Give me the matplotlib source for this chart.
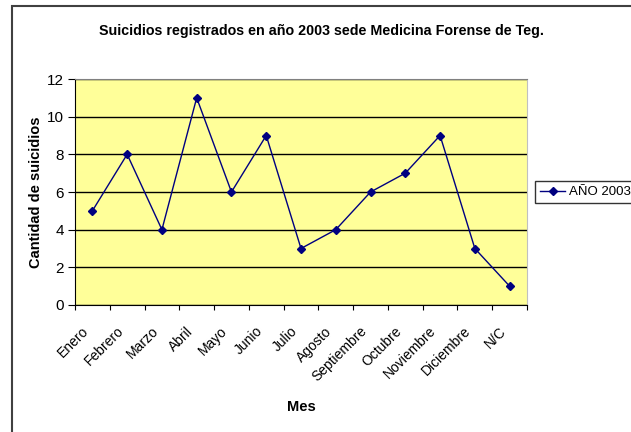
import matplotlib

matplotlib.use("Agg")
import matplotlib.pyplot as plt
from matplotlib.patches import Rectangle
from matplotlib.transforms import ScaledTranslation

plt.rcParams["font.family"] = ["Liberation Sans", "DejaVu Sans"]

MESES = ["Enero", "Febrero", "Marzo", "Abril", "Mayo", "Junio", "Julio",
         "Agosto", "Septiembre", "Octubre", "Noviembre", "Diciembre", "N/C"]
SUICIDIOS = [5, 8, 4, 11, 6, 9, 3, 4, 6, 7, 9, 3, 1]
Y_TICKS = [0, 2, 4, 6, 8, 10, 12]

W, H = 631, 432
fig = plt.figure(figsize=(W / 100, H / 100), dpi=100)

# outer chart frame (only left/top edges fall inside the image)
fig.patches.append(Rectangle((12 / W, -0.05), 1.1, (H - 6) / H + 0.05,
                             transform=fig.transFigure, fill=False,
                             edgecolor="#404040", linewidth=1.5))

ax = fig.add_axes([75 / W, (H - 305) / H, (527 - 75) / W, (305 - 79) / H])
ax.set_facecolor("#FFFF99")

xs = list(range(len(MESES)))
ax.plot(xs, SUICIDIOS, color="#000080", linewidth=1, marker="D",
        markersize=4.5, label="AÑO 2003", zorder=3)

ax.set_xlim(-0.5, len(MESES) - 0.5)
ax.set_ylim(0, 12)
ax.set_yticks(Y_TICKS)
ax.set_yticklabels([str(t) for t in Y_TICKS], fontsize=11)
ax.yaxis.grid(True, color="black", linewidth=1)
ax.set_axisbelow(True)

# category ticks at boundaries, labels at centers
ax.set_xticks([i - 0.5 for i in range(len(MESES) + 1)])
ax.set_xticklabels([])
ax.set_xticks(xs, minor=True)
ax.set_xticklabels(MESES, minor=True, rotation=45, ha="right", va="center",
                   rotation_mode="anchor", fontsize=10)
ax.tick_params(axis="x", which="minor", length=0, pad=0)
ax.tick_params(axis="x", which="major", length=3.6, direction="out")
ax.tick_params(axis="y", length=5, direction="out", pad=3)
shift = ScaledTranslation(-6 / 100, -24 / 100, fig.dpi_scale_trans)
for lbl in ax.get_xticklabels(minor=True):
    lbl.set_transform(lbl.get_transform() + shift)

ax.spines["left"].set_color("black")
ax.spines["bottom"].set_color("black")
ax.spines["top"].set_color("#808080")
ax.spines["right"].set_color("#C0C0C0")

ax.set_xlabel("Mes", fontsize=10.5, fontweight="bold")
ax.xaxis.set_label_coords(0.5, (305 - 400) / 226)
ax.set_ylabel("Cantidad de suicidios", fontsize=10.5, fontweight="bold")
ax.yaxis.set_label_coords((43 - 75) / 452, 0.5)

fig.text(321 / W, (H - 31) / H, "Suicidios registrados en año 2003 sede Medicina Forense de Teg.",
         ha="center", va="center", fontsize=10.3, fontweight="bold")

leg = ax.legend(loc="center left", bbox_to_anchor=(535 / W, (H - 192) / H),
                bbox_transform=fig.transFigure, fontsize=9.5, frameon=True,
                fancybox=False, edgecolor="black", handlelength=1.9,
                handletextpad=0.25, borderpad=0.4, borderaxespad=0)
leg.get_frame().set_linewidth(1)

fig.savefig("out.png", dpi=100)
